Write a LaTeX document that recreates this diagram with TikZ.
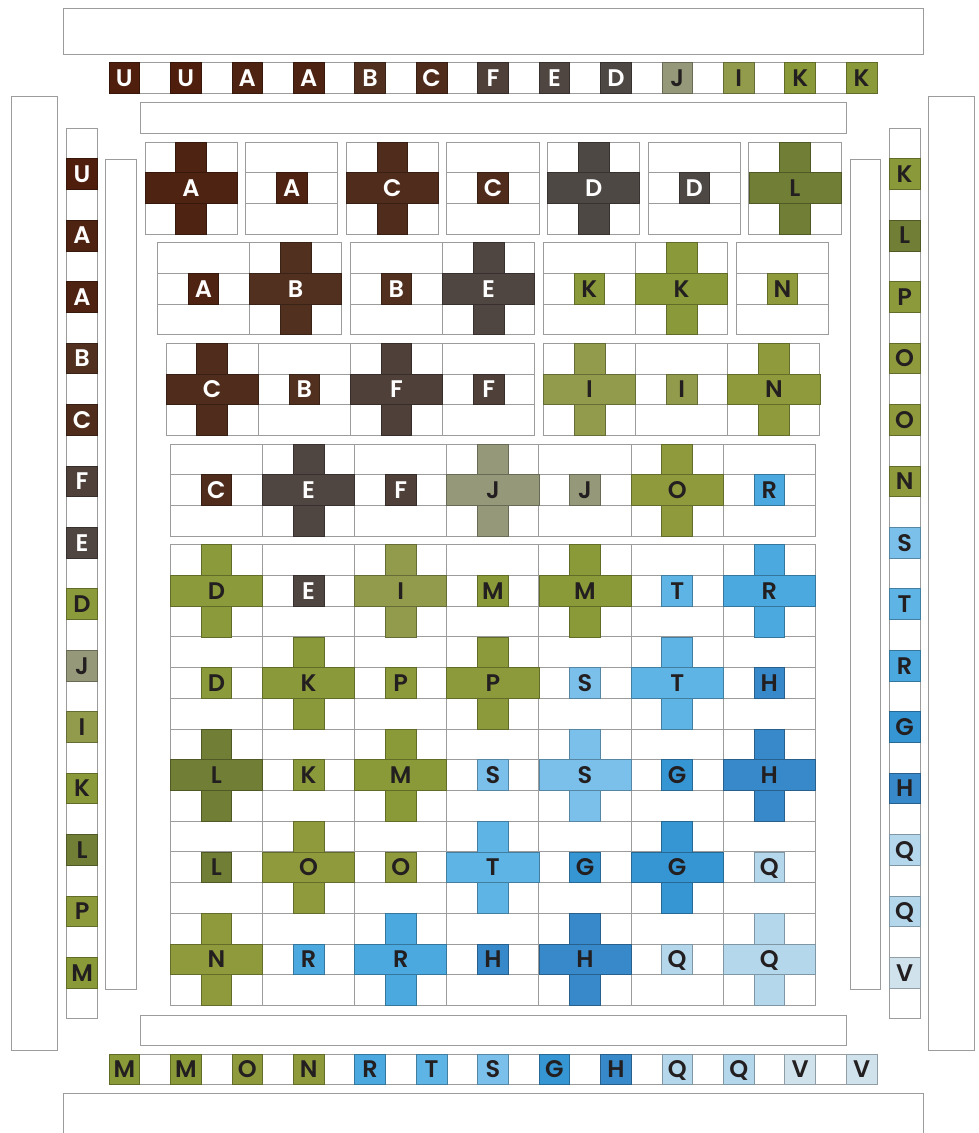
\documentclass[tikz,border=0pt]{standalone}
\usepackage{fontspec}
\setmainfont{Poppins}[BoldFont={Poppins SemiBold}]
\definecolor{cU}{HTML}{4F1E0D}
\definecolor{cA}{HTML}{4F2311}
\definecolor{cB}{HTML}{51301F}
\definecolor{cC}{HTML}{4F2C1C}
\definecolor{cF}{HTML}{4F4039}
\definecolor{cE}{HTML}{4F4541}
\definecolor{cDd}{HTML}{4E4845}
\definecolor{cJ}{HTML}{959879}
\definecolor{cI}{HTML}{929B4B}
\definecolor{cK}{HTML}{8A9A3A}
\definecolor{cL}{HTML}{707F35}
\definecolor{cP}{HTML}{8C9A3B}
\definecolor{cO}{HTML}{8E9A3C}
\definecolor{cN}{HTML}{8F9A3C}
\definecolor{cM}{HTML}{8A9A38}
\definecolor{cDo}{HTML}{8B9A3A}
\definecolor{cS}{HTML}{7AC0EA}
\definecolor{cT}{HTML}{5EB4E5}
\definecolor{cR}{HTML}{4BA9E0}
\definecolor{cG}{HTML}{3696D4}
\definecolor{cH}{HTML}{3789C9}
\definecolor{cQ}{HTML}{B5D7EB}
\definecolor{cV}{HTML}{D0E2EC}
\definecolor{ink}{HTML}{231F20}
\definecolor{gridc}{HTML}{9C9C9C}
\pgfdeclarelayer{bg}
\pgfsetlayers{bg,main}
\tikzset{
  gridbox/.style={draw=gridc, line width=0.7pt, fill=white},
  gline/.style={draw=gridc, line width=0.7pt},
  cellb/.style={line width=0.55pt},
  lab/.style={inner sep=0pt, anchor=base, font=\fontsize{18}{18}\selectfont\bfseries},
}
\newcount\nc
% label: x y textcolour letter
\newcommand\Lab[4]{\global\advance\nc by 1
  \node[lab, text=#3] (t\the\nc) at ({#1},{#2}) {#4};}
% square cell: x y (top-left) fill textcolour letter
\newcommand\Sq[5]{\draw[cellb, fill=#3, draw=#3!70!black] ({#1},{#2}) rectangle ++(30.72,30.72);
  \Lab{#1+15.36}{#2+15.36+8.4}{#4}{#5}}
% 3x3 block outline
\newcommand\Blk[2]{\begin{pgfonlayer}{bg}
  \draw[gridbox] ({#1},{#2}) rectangle ++(92.16,92.16);
  \draw[gline] ({#1},{#2+30.72}) -- ++(92.16,0) ({#1},{#2+61.44}) -- ++(92.16,0);
  \end{pgfonlayer}}
\newcommand\Small[5]{\Blk{#1}{#2}\Sq{#1+30.72}{#2+30.72}{#3}{#4}{#5}}
\newcommand\Cross[5]{\Blk{#1}{#2}
  \draw[cellb, fill=#3, draw=#3!70!black] ({#1+30.72},{#2}) rectangle ++(30.72,30.72);
  \draw[cellb, fill=#3, draw=#3!70!black] ({#1+30.72},{#2+61.44}) rectangle ++(30.72,30.72);
  \draw[cellb, fill=#3, draw=#3!70!black] ({#1},{#2+30.72}) rectangle ++(92.16,30.72);
  \Lab{#1+46.08}{#2+46.08+8.4}{#4}{#5}}
\begin{document}
\begin{tikzpicture}[x=0.75pt,y=-0.75pt]
\useasboundingbox (0,0) rectangle (979,1133);
% frames
\draw[gridbox] (63,8.5) rectangle (923,54.3);
\draw[gridbox] (140,102.7) rectangle (846.7,133.3);
\draw[gridbox] (140,1015) rectangle (846.7,1045.5);
\draw[gridbox] (63,1093.3) rectangle (923,1145);
\draw[gridbox] (11.7,96.7) rectangle (57.7,1050.5);
\draw[gridbox] (928.3,96.7) rectangle (974.3,1050.5);
\draw[gridbox] (105.7,159) rectangle (136.4,989);
\draw[gridbox] (850,159) rectangle (880.7,989);
% strips
\draw[gridbox] (109,62.7) rectangle ++(768,30.72);
\foreach \lt/\cc/\tc [count=\i from 0] in {U/cU/white,U/cU/white,A/cA/white,A/cA/white,B/cB/white,C/cC/white,F/cF/white,E/cE/white,D/cDd/white,J/cJ/ink,I/cI/ink,K/cK/ink,K/cK/ink}
  {\Sq{109+\i*61.44}{62.7}{\cc}{\tc}{\lt}}
\draw[gridbox] (109,1054) rectangle ++(768,30.72);
\foreach \lt/\cc [count=\i from 0] in {M/cM,M/cM,O/cO,N/cN,R/cR,T/cT,S/cS,G/cG,H/cH,Q/cQ,Q/cQ,V/cV,V/cV}
  {\Sq{109+\i*61.44}{1054}{\cc}{ink}{\lt}}
\draw[gridbox] (66.7,128) rectangle ++(30.72,890.88);
\foreach \lt/\cc/\tc [count=\i from 0] in {U/cU/white,A/cA/white,A/cA/white,B/cB/white,C/cC/white,F/cF/white,E/cE/white,D/cDo/ink,J/cJ/ink,I/cI/ink,K/cK/ink,L/cL/ink,P/cP/ink,M/cM/ink}
  {\Sq{66.7}{128+30.72+\i*61.44}{\cc}{\tc}{\lt}}
\draw[gridbox] (889.3,128) rectangle ++(30.72,890.88);
\foreach \lt/\cc [count=\i from 0] in {K/cK,L/cL,P/cP,O/cO,O/cO,N/cN,S/cS,T/cT,R/cR,G/cG,H/cH,Q/cQ,Q/cQ,V/cV}
  {\Sq{889.3}{128+30.72+\i*61.44}{\cc}{ink}{\lt}}
% row 1
\Cross{145}{142}{cA}{white}{A}
\Small{245.65}{142}{cA}{white}{A}
\Cross{346.3}{142}{cC}{white}{C}
\Small{446.95}{142}{cC}{white}{C}
\Cross{547.6}{142}{cDd}{white}{D}
\Small{648.25}{142}{cDd}{white}{D}
\Cross{748.9}{142}{cL}{ink}{L}
% row 2
\Small{157.3}{242.67}{cA}{white}{A}
\Cross{249.46}{242.67}{cB}{white}{B}
\Small{350.32}{242.67}{cB}{white}{B}
\Cross{442.48}{242.67}{cE}{white}{E}
\Small{543.34}{242.67}{cK}{ink}{K}
\Cross{635.5}{242.67}{cK}{ink}{K}
\Small{736.36}{242.67}{cN}{ink}{N}
% row 3
\Cross{166.1}{343.34}{cC}{white}{C}
\Small{258.26}{343.34}{cB}{white}{B}
\Cross{350.42}{343.34}{cF}{white}{F}
\Small{442.58}{343.34}{cF}{white}{F}
\Cross{543.44}{343.34}{cI}{ink}{I}
\Small{635.6}{343.34}{cI}{ink}{I}
\Cross{727.76}{343.34}{cN}{ink}{N}
% row 4
\Small{170.3}{444}{cC}{white}{C}
\Cross{262.46}{444}{cE}{white}{E}
\Small{354.62}{444}{cF}{white}{F}
\Cross{446.78}{444}{cJ}{ink}{J}
\Small{538.94}{444}{cJ}{ink}{J}
\Cross{631.1}{444}{cO}{ink}{O}
\Small{723.26}{444}{cR}{ink}{R}
% main grid
\Cross{170.3}{544.7}{cDo}{ink}{D}
\Small{262.46}{544.7}{cE}{white}{E}
\Cross{354.62}{544.7}{cI}{ink}{I}
\Small{446.78}{544.7}{cM}{ink}{M}
\Cross{538.94}{544.7}{cM}{ink}{M}
\Small{631.1}{544.7}{cT}{ink}{T}
\Cross{723.26}{544.7}{cR}{ink}{R}
%
\Small{170.3}{636.86}{cDo}{ink}{D}
\Cross{262.46}{636.86}{cK}{ink}{K}
\Small{354.62}{636.86}{cP}{ink}{P}
\Cross{446.78}{636.86}{cP}{ink}{P}
\Small{538.94}{636.86}{cS}{ink}{S}
\Cross{631.1}{636.86}{cT}{ink}{T}
\Small{723.26}{636.86}{cH}{ink}{H}
%
\Cross{170.3}{729.02}{cL}{ink}{L}
\Small{262.46}{729.02}{cK}{ink}{K}
\Cross{354.62}{729.02}{cM}{ink}{M}
\Small{446.78}{729.02}{cS}{ink}{S}
\Cross{538.94}{729.02}{cS}{ink}{S}
\Small{631.1}{729.02}{cG}{ink}{G}
\Cross{723.26}{729.02}{cH}{ink}{H}
%
\Small{170.3}{821.18}{cL}{ink}{L}
\Cross{262.46}{821.18}{cO}{ink}{O}
\Small{354.62}{821.18}{cO}{ink}{O}
\Cross{446.78}{821.18}{cT}{ink}{T}
\Small{538.94}{821.18}{cG}{ink}{G}
\Cross{631.1}{821.18}{cG}{ink}{G}
\Small{723.26}{821.18}{cQ}{ink}{Q}
%
\Cross{170.3}{913.34}{cN}{ink}{N}
\Small{262.46}{913.34}{cR}{ink}{R}
\Cross{354.62}{913.34}{cR}{ink}{R}
\Small{446.78}{913.34}{cH}{ink}{H}
\Cross{538.94}{913.34}{cH}{ink}{H}
\Small{631.1}{913.34}{cQ}{ink}{Q}
\Cross{723.26}{913.34}{cQ}{ink}{Q}
\end{tikzpicture}
\end{document}
